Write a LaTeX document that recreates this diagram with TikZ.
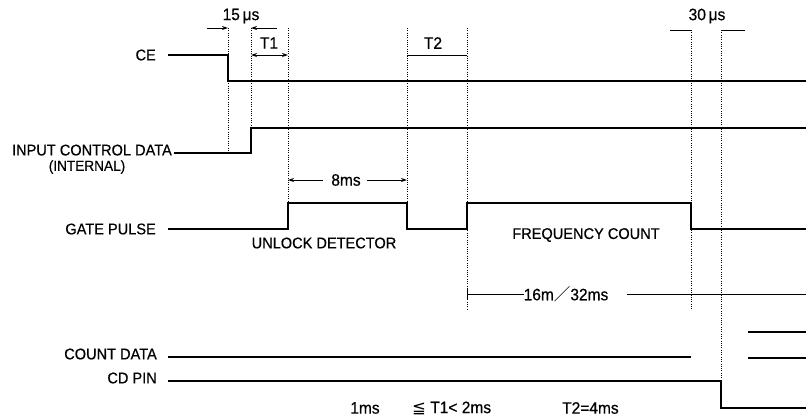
\documentclass[tikz,border=0pt]{standalone}
\usepackage{fontspec}
\setmainfont{Liberation Sans}[FakeStretch=0.94,FakeBold=0.5]
\newfontfamily\djv{DejaVu Sans}
\newfontfamily\cjkf{Noto Sans CJK JP}
\usetikzlibrary{arrows.meta}
\begin{document}
\begin{tikzpicture}[x=1pt,y=-1pt,
 sig/.style={line width=1.3pt, line join=miter},
 guide/.style={line width=0.9pt, dash pattern=on 1pt off 1.3pt},
 lbl/.style={font=\fontsize{15.5}{16}\selectfont, inner sep=0pt},
 tlbl/.style={font=\fontsize{16.5}{17}\selectfont, inner sep=0pt},
 dimarrow/.style={line width=1pt, -{Stealth[length=6pt,width=4pt]}},
 dimboth/.style={line width=1pt, {Stealth[length=6pt,width=4pt]}-{Stealth[length=6pt,width=4pt]}},
 dimline/.style={line width=1pt}
]
\useasboundingbox (0,0) rectangle (806,418);

% signal labels
\node[lbl,anchor=east] (ceL) at (156,55) {CE};
\node[lbl,anchor=east,text depth=0pt] (icL) at (172,150) {INPUT CONTROL DATA};
\node[lbl,font=\fontsize{14.5}{15}\selectfont] (icL2) at (87,167) {(INTERNAL)};
\node[lbl,anchor=east] (gpL) at (156,229) {GATE PULSE};
\node[lbl,anchor=east] (cdL) at (157,354) {COUNT DATA};
\node[lbl,anchor=east] (cpL) at (157,378) {CD PIN};

% coordinates of the time marks
\coordinate (ce0) at (168,55);
\coordinate (ic0) at (174,153);
\coordinate (gp0) at (168,229);
\coordinate (cd0) at (168,357);
\coordinate (cp0) at (168,381);

% guide lines (dotted)
\draw[guide] (228,28) -- (228,153);
\draw[guide] (251,28) -- (251,128);
\draw[guide] (288,28) -- (288,203);
\draw[guide] (407,28) -- (407,203);
\draw[guide] (467,28) -- (467,310);
\draw[guide] (691,30) -- (691,310);
\draw[guide] (721,30) -- (721,381);

% waveforms
\draw[sig] (ce0) -- (228,55) -- (228,81) -- (806,81);
\draw[sig] (ic0) -- (251,153) -- (251,128) -- (806,128);
\draw[sig] (gp0) -- (288,229) -- (288,203) -- (407,203) -- (407,229) -- (467,229)
  -- (467,203) -- (691,203) -- (691,229) -- (806,229);
\draw[sig] (cd0) -- (691,357);
\draw[sig] (748,332) -- (806,332);
\draw[sig] (748,358) -- (806,358);
\draw[sig] (cp0) -- (721,381) -- (721,408) -- (806,408);

% 16m/32ms
\node[tlbl] (sixteen) at (566,294) {16m{\cjkf ／}32ms};
\draw[dimline] (467,294) -- (sixteen.west);
\draw[dimline] ([xshift=18pt]sixteen.east) -- (806,294);
\draw[dimline] (467,289) -- (467,299);

% top annotations
\node[tlbl] (t15) at (241,16) {15\,μs};
\draw[dimarrow] (207,28) -- (228,28);
\draw[dimarrow] (277,28) -- (251,28);
\node[tlbl] (t1) at (269,43) {T1};
\draw[dimboth] (251,55) -- (288,55);
\node[tlbl] (t2) at (433,43) {T2};
\draw[dimline] (407,55) -- (467,55);
\node[tlbl] (t8) at (346,180) {8ms};
\draw[dimarrow] (t8.west) ++(-8,0) -- (288,180);
\draw[dimarrow] (t8.east) ++(6,0) -- (407,180);
\node[tlbl] (t30) at (707,16) {30\,μs};
\draw[dimline] (670,30) -- (691,30);
\draw[dimline] (721,30) -- (745,30);

% region labels
\node[lbl] (unlock) at (324,243) {UNLOCK DETECTOR};
\node[lbl] (freq) at (586,235) {FREQUENCY COUNT};

% bottom note
\node[tlbl] (n1) at (365,408) {1ms};
\node[tlbl,anchor=west] (n2) at (412,408) {{\djv ≦} T1< 2ms};
\node[tlbl,anchor=west] (n3) at (562,408) {T2=4ms};
\end{tikzpicture}
\end{document}
